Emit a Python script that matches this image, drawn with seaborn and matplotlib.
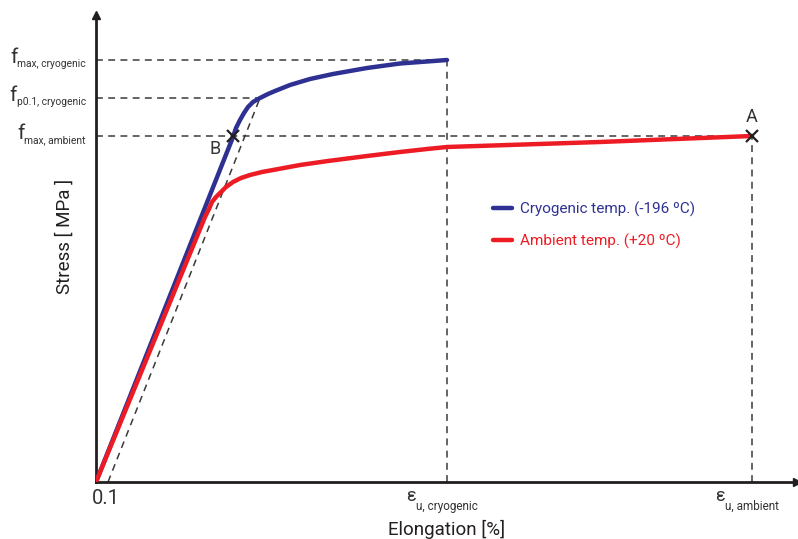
import pandas as pd
import seaborn as sns
import matplotlib.pyplot as plt

# curve points (arbitrary units: elongation vs stress)
cryo_x = [0, 137, 140, 144, 148, 152, 157, 164, 172, 179, 194, 214, 237, 271, 304, 351]
cryo_y = [0, 345, 354, 362, 369, 375, 380, 384, 388, 391, 397, 403, 408, 414, 418.5, 422]
amb_x = [0, 109, 113, 116, 120, 124, 130, 137, 145, 154, 166, 177, 204, 232, 271, 304, 331, 351, 504, 656]
amb_y = [0, 265, 273, 280, 285, 289, 295, 300, 304, 307, 310, 312, 317, 321, 326, 330, 333, 335, 340, 346]

offset_x = [12, 164]
offset_y = [0, 384]

eps_u_cryo = 351
eps_u_amb = 656
f_max_cryo = 422
f_p01_cryo = 384
f_max_amb = 346
point_B = (137, 346)
point_A = (656, 346)

series = ["Cryogenic temp. (-196 ºC)", "Ambient temp. (+20 ºC)"]
blue = "#2e3192"
red = "#ed1c24"
ink = "#231f20"

sns.set_style("white")
plt.rcParams["font.family"] = ["Roboto", "DejaVu Sans"]

W, H = 798, 539
fig = plt.figure(figsize=(W / 100, H / 100), dpi=100)
ax = fig.add_axes([96 / W, 57 / H, 701 / W, 467 / H])
ax.set_xlim(0, 701)
ax.set_ylim(0, 467)

dash = dict(color="#3a3a3a", lw=1.1, ls=(0, (4.5, 3.5)), zorder=1)
ax.plot([0, eps_u_cryo], [f_max_cryo] * 2, **dash)
ax.plot([0, offset_x[1]], [f_p01_cryo] * 2, **dash)
ax.plot([0, eps_u_amb], [f_max_amb] * 2, **dash)
ax.plot([eps_u_cryo] * 2, [0, f_max_cryo], **dash)
ax.plot([eps_u_amb] * 2, [0, f_max_amb], **dash)
ax.plot(offset_x, offset_y, **dash)

df = pd.concat([
    pd.DataFrame({"x": cryo_x, "y": cryo_y, "s": series[0]}),
    pd.DataFrame({"x": amb_x, "y": amb_y, "s": series[1]}),
])
sns.lineplot(data=df, x="x", y="y", hue="s", palette=[blue, red], lw=3.2,
             estimator=None, sort=False, ax=ax, zorder=3)

leg = ax.legend(loc="upper left", bbox_to_anchor=(0.547, 0.63), frameon=False,
                fontsize=11, handlelength=1.25, handletextpad=0.5, labelspacing=1.1)
for txt, c in zip(leg.get_texts(), [blue, red]):
    txt.set_color(c)

ax.plot(*point_B, marker="x", color=ink, ms=9, mew=1.6, zorder=4)
ax.plot(*point_A, marker="x", color=ink, ms=9, mew=1.6, clip_on=False, zorder=4)

sns.despine(ax=ax)
for sp in ["left", "bottom"]:
    ax.spines[sp].set_linewidth(2)
    ax.spines[sp].set_color(ink)
ax.plot(1, 0, ">", color=ink, ms=6, transform=ax.transAxes, clip_on=False)
ax.plot(0, 1, "^", color=ink, ms=6, transform=ax.transAxes, clip_on=False)
ax.set_xticks([])
ax.set_yticks([])
ax.set_xlabel("")
ax.set_ylabel("")


def px(x, y):
    return x / W, 1 - y / H


def to_px(xd, yd):
    x, y = ax.transData.transform((xd, yd))
    return x, H - y


renderer = fig.canvas.get_renderer()


def sub_label(x, y_main, y_sub, main, sub, main_size, sub_size, align):
    # main letter + subscript, anchored in pixel coordinates
    t = fig.text(*px(x, y_sub), sub, fontsize=sub_size, color="#333333",
                 ha="right" if align == "right" else "center", va="baseline")
    left = t.get_window_extent(renderer).x0
    fig.text(*px(left, y_main), main, fontsize=main_size, color="#333333",
             ha="right", va="baseline")


# y-axis labels
for val, sub in [(f_max_cryo, "max, cryogenic"), (f_p01_cryo, "p0.1, cryogenic"),
                 (f_max_amb, "max, ambient")]:
    _, yp = to_px(0, val)
    sub_label(86, yp + 3, yp + 7, "f", sub, 15, 7.4, "right")

# x-axis labels
for val, sub in [(eps_u_cryo, "u, cryogenic"), (eps_u_amb, "u, ambient")]:
    xp, _ = to_px(val, 0)
    sub_label(xp, 501, 510, "ε", sub, 13, 8.5, "center")

fig.text(*px(106, 498), "0.1", fontsize=14.5, ha="center", va="center", color="#333333")

xb, yb = to_px(*point_B)
fig.text(*px(xb - 18, yb + 13), "B", fontsize=13, ha="center", va="center", color="#333333")
xa, ya = to_px(*point_A)
fig.text(*px(xa, ya - 19), "A", fontsize=13, ha="center", va="center", color="#333333")

fig.text(*px(447, 529), "Elongation [%]", fontsize=13.5, ha="center", va="center", color=ink)
fig.text(*px(65, 236), "Stress [ MPa ]", fontsize=13.5, ha="center", va="center",
         rotation=90, color=ink)

fig.savefig("out.png", dpi=100)
